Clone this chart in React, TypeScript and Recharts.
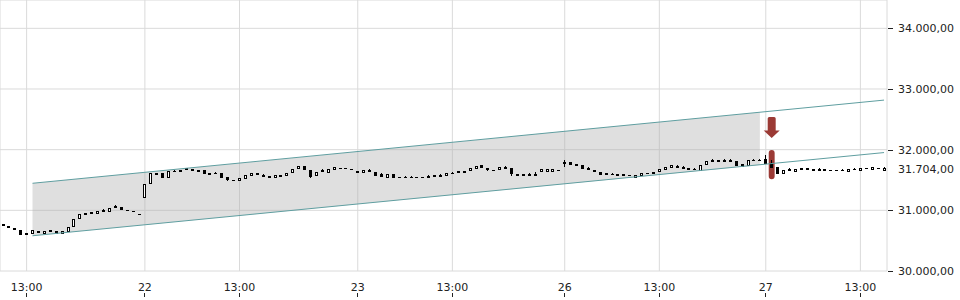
import React from 'react';
import {
  ComposedChart,
  Bar,
  Line,
  Area,
  XAxis,
  YAxis,
  CartesianGrid,
  ReferenceArea,
  ReferenceDot,
  ReferenceLine,
} from 'recharts';

// one candle = [open, high, low, close]
type Candle = [number, number, number, number];

const day21: Candle[] = [
  [30770, 30770, 30735, 30735], [30742, 30742, 30709, 30709], [30703, 30703, 30670, 30670],
  [30675, 30675, 30593, 30593], [30626, 30626, 30593, 30593], [30615, 30670, 30615, 30670],
  [30665, 30665, 30632, 30632], [30632, 30665, 30632, 30665], [30675, 30675, 30642, 30642],
  [30653, 30653, 30615, 30615], [30615, 30653, 30615, 30653], [30648, 30725, 30640, 30725],
  [30720, 30852, 30720, 30852], [30857, 30934, 30857, 30934], [30961, 30961, 30928, 30928],
  [30967, 30967, 30934, 30934], [30950, 30984, 30950, 30984], [31000, 31022, 30967, 30967],
  [30967, 31033, 30967, 31033], [31066, 31083, 31033, 31033], [31055, 31055, 31006, 31006],
  [31000, 31000, 30984, 30984], [30986, 30986, 30982, 30982], [30936, 30936, 30932, 30932],
];

const day22: Candle[] = [
  [31198, 31429, 31198, 31429], [31429, 31610, 31429, 31610], [31621, 31621, 31588, 31588],
  [31616, 31616, 31539, 31539], [31539, 31649, 31539, 31649], [31644, 31665, 31627, 31642],
  [31671, 31671, 31638, 31638], [31693, 31704, 31660, 31660], [31682, 31682, 31649, 31649],
  [31671, 31671, 31638, 31638], [31660, 31660, 31605, 31605], [31621, 31621, 31588, 31588],
  [31616, 31638, 31594, 31594], [31610, 31610, 31539, 31539], [31550, 31550, 31484, 31495],
  [31502, 31502, 31500, 31500], [31495, 31528, 31495, 31528], [31523, 31578, 31523, 31578],
  [31578, 31610, 31578, 31610], [31610, 31610, 31578, 31578], [31583, 31600, 31556, 31556],
  [31567, 31567, 31534, 31534], [31539, 31583, 31539, 31583], [31583, 31583, 31556, 31556],
  [31561, 31610, 31561, 31610], [31610, 31682, 31610, 31682], [31676, 31726, 31676, 31726],
  [31726, 31726, 31665, 31665], [31660, 31660, 31534, 31550], [31561, 31627, 31561, 31627],
  [31660, 31682, 31627, 31627], [31616, 31682, 31616, 31682], [31682, 31715, 31682, 31715],
  [31700, 31700, 31697, 31697], [31693, 31693, 31690, 31690], [31677, 31677, 31675, 31675],
];

const day23: Candle[] = [
  [31654, 31654, 31610, 31610], [31610, 31665, 31610, 31665], [31665, 31687, 31638, 31638],
  [31632, 31632, 31572, 31572], [31594, 31610, 31545, 31545], [31534, 31600, 31534, 31600],
  [31600, 31600, 31528, 31528], [31556, 31556, 31528, 31528], [31550, 31567, 31534, 31548],
  [31545, 31560, 31530, 31543], [31556, 31556, 31528, 31528], [31556, 31556, 31528, 31528],
  [31567, 31583, 31539, 31539], [31578, 31578, 31550, 31550], [31589, 31605, 31556, 31556],
  [31578, 31616, 31578, 31616], [31623, 31638, 31605, 31621], [31643, 31643, 31610, 31610],
  [31649, 31649, 31616, 31616], [31649, 31704, 31649, 31704], [31698, 31737, 31698, 31737],
  [31743, 31743, 31693, 31693], [31698, 31698, 31643, 31660], [31672, 31672, 31670, 31670],
  [31660, 31709, 31660, 31709], [31715, 31731, 31682, 31682], [31698, 31698, 31572, 31594],
  [31594, 31594, 31561, 31561], [31594, 31594, 31561, 31561], [31594, 31616, 31561, 31561],
  [31594, 31627, 31567, 31567], [31627, 31682, 31627, 31682], [31632, 31676, 31632, 31676],
  [31632, 31676, 31632, 31676], [31672, 31672, 31670, 31670],
];

const day26: Candle[] = [
  [31803, 31825, 31720, 31765], [31803, 31803, 31743, 31743], [31759, 31759, 31726, 31726],
  [31743, 31743, 31676, 31676], [31698, 31720, 31660, 31660], [31660, 31660, 31627, 31627],
  [31632, 31632, 31588, 31588], [31610, 31610, 31578, 31578], [31600, 31616, 31578, 31578],
  [31600, 31600, 31572, 31572], [31600, 31600, 31572, 31572], [31589, 31589, 31567, 31567],
  [31545, 31589, 31545, 31589], [31583, 31616, 31583, 31616], [31622, 31622, 31620, 31620],
  [31627, 31627, 31600, 31600], [31627, 31682, 31627, 31682], [31682, 31720, 31682, 31720],
  [31709, 31743, 31709, 31743], [31731, 31743, 31698, 31698], [31715, 31731, 31682, 31682],
  [31698, 31698, 31665, 31665], [31687, 31698, 31660, 31660], [31654, 31743, 31654, 31743],
  [31743, 31820, 31743, 31820], [31830, 31847, 31803, 31803], [31825, 31825, 31797, 31797],
  [31825, 31842, 31797, 31797], [31830, 31847, 31797, 31797], [31820, 31820, 31737, 31737],
  [31759, 31759, 31720, 31720], [31731, 31830, 31731, 31830], [31836, 31847, 31814, 31814],
  [31836, 31852, 31814, 31814],
];

const day27: Candle[] = [
  [31842, 31907, 31765, 31765], [31787, 31825, 31704, 31704], [31709, 31709, 31605, 31605],
  [31605, 31660, 31605, 31660], [31676, 31693, 31649, 31649], [31643, 31682, 31643, 31682],
  [31693, 31693, 31665, 31665], [31693, 31693, 31665, 31665], [31682, 31682, 31654, 31654],
  [31676, 31693, 31654, 31654], [31676, 31676, 31649, 31649], [31671, 31671, 31643, 31643],
  [31671, 31671, 31649, 31649], [31660, 31676, 31643, 31643], [31643, 31676, 31643, 31676],
  [31682, 31698, 31660, 31660], [31660, 31698, 31660, 31698], [31704, 31704, 31676, 31676],
  [31676, 31709, 31676, 31709], [31704, 31704, 31682, 31682], [31690, 31720, 31690, 31704],
];

// x-axis labels (candle index -> label)
const TICK_IDX = [4, 24, 40, 60, 76, 95, 111, 129, 145];
const TICK_LABELS = ['13:00', '22', '13:00', '23', '13:00', '26', '13:00', '27', '13:00'];
const Y_TICKS = [30000, 31000, 32000, 33000, 34000];

// trend channel: start / end candle and values
const CHANNEL_IDX = [5, 149];
const CHANNEL_UPPER = [31446, 32817];
const CHANNEL_LOWER = [30581, 31952];
const SHADE_END_IDX = 128;
const SHADE_END = [31748, 32617]; // [lower, upper]

const LAST_PRICE = 31704;
const SIGNAL_IDX = 130;
const SIGNAL_BAND = [31512, 31995];
const SIGNAL_ARROW_Y = 32366;

const FONT = '"DejaVu Sans", sans-serif';
const TEAL = '#5f9ea0';
const RED = '#9b3a35';

const candles = [...day21, ...day22, ...day23, ...day26, ...day27];

const chartData = candles.map(([o, h, l, c], i) => ({
  i,
  o,
  h,
  l,
  c,
  range: [l, h],
  upper: i === CHANNEL_IDX[0] ? CHANNEL_UPPER[0] : i === CHANNEL_IDX[1] ? CHANNEL_UPPER[1] : null,
  lower: i === CHANNEL_IDX[0] ? CHANNEL_LOWER[0] : i === CHANNEL_IDX[1] ? CHANNEL_LOWER[1] : null,
  shade:
    i === CHANNEL_IDX[0]
      ? [CHANNEL_LOWER[0], CHANNEL_UPPER[0]]
      : i === SHADE_END_IDX
        ? SHADE_END
        : null,
}));

// 34000 -> "34.000,00"
const formatPrice = (v: number): string =>
  `${String(Math.round(v)).replace(/\B(?=(\d{3})+(?!\d))/g, '.')},00`;

const CandleShape = (props: any) => {
  const { x, y, width, height, payload } = props;
  if (x == null || !payload) return null;
  const { o, h, l, c } = payload;
  const span = h - l || 1;
  const py = (v: number) => y + ((h - v) / span) * height;
  const px = Math.floor(x + width / 2);
  const up = c > o;
  const top = Math.round(py(Math.max(o, c)));
  let bot = Math.round(py(Math.min(o, c)));
  const hasWick = h > Math.max(o, c) || l < Math.min(o, c);
  if (up) {
    bot = Math.max(bot, top + 3);
    return (
      <g>
        {hasWick && (
          <line x1={px + 0.5} x2={px + 0.5} y1={Math.round(py(h))} y2={Math.round(py(l))} stroke="#000" />
        )}
        <rect x={px - 0.5} y={top + 0.5} width={2} height={bot - top - 1} fill="#fff" stroke="#000" />
      </g>
    );
  }
  bot = Math.max(bot, top + 1);
  return (
    <g>
      {hasWick && (
        <line x1={px + 0.5} x2={px + 0.5} y1={Math.round(py(h))} y2={Math.round(py(l))} stroke="#000" />
      )}
      <rect x={px - 1} y={top} width={3} height={bot - top} fill="#000" />
    </g>
  );
};

const XTick = (props: any) => {
  const { x, y, payload } = props;
  const label = TICK_LABELS[TICK_IDX.indexOf(payload.value)];
  if (!label) return null;
  return (
    <g>
      <text x={x} y={y + 20} textAnchor="middle" fontFamily={FONT} fontSize={11} fill="#222">
        {label}
      </text>
      <line x1={Math.floor(x) + 0.5} x2={Math.floor(x) + 0.5} y1={y + 22} y2={y + 26} stroke="#222" />
    </g>
  );
};

const YTick = (props: any) => {
  const { x, y, payload } = props;
  return (
    <g>
      <line x1={x + 1} x2={x + 6} y1={Math.round(y) + 0.5} y2={Math.round(y) + 0.5} stroke="#222" />
      <text x={x + 11} y={y} dy="0.36em" fontFamily={FONT} fontSize={11} fill="#222">
        {formatPrice(payload.value)}
      </text>
    </g>
  );
};

const ArrowDown = (props: any) => {
  const { cx, cy } = props;
  if (cx == null || cy == null) return null;
  const d = [
    `M ${cx - 4} ${cy - 9}`,
    `Q ${cx - 4} ${cy - 10.5} ${cx - 2.5} ${cy - 10.5}`,
    `L ${cx + 2.5} ${cy - 10.5}`,
    `Q ${cx + 4} ${cy - 10.5} ${cx + 4} ${cy - 9}`,
    `L ${cx + 4} ${cy + 3}`,
    `L ${cx + 8} ${cy + 3}`,
    `L ${cx} ${cy + 10.5}`,
    `L ${cx - 8} ${cy + 3}`,
    `L ${cx - 4} ${cy + 3}`,
    'Z',
  ].join(' ');
  return <path d={d} fill={RED} />;
};

const PriceLabel = (props: any) => {
  const vb = props.viewBox || {};
  return (
    <text
      x={(vb.x ?? 0) + (vb.width ?? 0) + 11}
      y={(vb.y ?? 0) + 1}
      dy="0.36em"
      fontFamily={FONT}
      fontSize={11}
      fill="#222"
    >
      {formatPrice(LAST_PRICE)}
    </text>
  );
};

export default function App() {
  return (
    <div style={{ position: 'absolute', left: 0, top: 0, background: '#fff' }}>
      <ComposedChart
        width={960}
        height={300}
        data={chartData}
        margin={{ top: 0, right: 0, left: 0, bottom: 0 }}
        barCategoryGap={0}
        barGap={0}
      >
        <CartesianGrid stroke="#dadada" />
        <XAxis
          dataKey="i"
          type="category"
          ticks={TICK_IDX}
          interval={0}
          height={29}
          axisLine={false}
          tickLine={false}
          tickSize={0}
          tickMargin={0}
          tick={<XTick />}
        />
        <YAxis
          orientation="right"
          type="number"
          width={73}
          domain={[30000, 34467]}
          ticks={Y_TICKS}
          allowDataOverflow
          axisLine={false}
          tickLine={false}
          tickSize={0}
          tickMargin={0}
          tick={<YTick />}
        />
        <Area
          dataKey="shade"
          type="linear"
          connectNulls
          stroke="none"
          fill="#aeaeae"
          fillOpacity={0.4}
          dot={false}
          activeDot={false}
          isAnimationActive={false}
        />
        <Line
          dataKey="upper"
          type="linear"
          connectNulls
          stroke={TEAL}
          strokeWidth={1}
          dot={false}
          activeDot={false}
          isAnimationActive={false}
        />
        <Line
          dataKey="lower"
          type="linear"
          connectNulls
          stroke={TEAL}
          strokeWidth={1}
          dot={false}
          activeDot={false}
          isAnimationActive={false}
        />
        <ReferenceArea
          x1={SIGNAL_IDX}
          x2={SIGNAL_IDX}
          y1={SIGNAL_BAND[0]}
          y2={SIGNAL_BAND[1]}
          fill={RED}
          fillOpacity={1}
          stroke="none"
          radius={3}
        />
        <Bar dataKey="range" shape={<CandleShape />} isAnimationActive={false} />
        <ReferenceDot x={SIGNAL_IDX} y={SIGNAL_ARROW_Y} shape={<ArrowDown />} />
        <ReferenceLine y={LAST_PRICE} stroke="none" label={<PriceLabel />} />
      </ComposedChart>
    </div>
  );
}
